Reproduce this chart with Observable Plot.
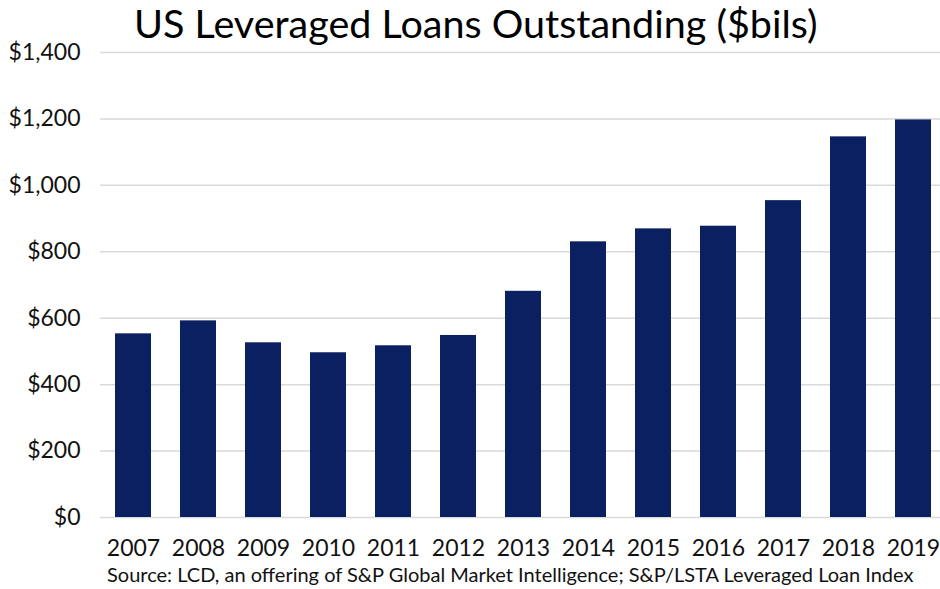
<!DOCTYPE html>
<html>
<head>
<meta charset="utf-8">
<script src="https://cdn.jsdelivr.net/npm/d3@7"></script>
<script src="https://cdn.jsdelivr.net/npm/@observablehq/plot@0.6"></script>
<style>
  body { margin: 0; background: #fff; }
  #wrap { position: relative; width: 940px; height: 589px; overflow: hidden; font-family: Lato, "Open Sans", sans-serif; }
  #title { position: absolute; left: 134px; top: -2px; font-size: 39.5px; color: #000; white-space: nowrap; line-height: 50px; }
  #caption { position: absolute; left: 107px; top: 562px; font-size: 20px; color: #111; white-space: nowrap; line-height: 24px; }
  #chart { position: absolute; left: 0; top: 0; }
</style>
</head>
<body>
<div id="wrap">
  <div id="chart"></div>
  <div id="title">US Leveraged Loans Outstanding ($bils)</div>
  <div id="caption">Source: LCD, an offering of S&amp;P Global Market Intelligence; S&amp;P/LSTA Leveraged Loan Index</div>
</div>
<script>
const years = ["2007","2008","2009","2010","2011","2012","2013","2014","2015","2016","2017","2018","2019"];
const loans = [553, 592, 526, 496, 517, 548, 681, 830, 869, 877, 954, 1146, 1197];
const yTicks = [0, 200, 400, 600, 800, 1000, 1200, 1400];

const data = years.map((y, i) => ({year: y, value: loans[i]}));

const chart = Plot.plot({
  width: 940,
  height: 589,
  marginTop: 52,
  marginBottom: 72,
  marginLeft: 100,
  marginRight: 0,
  style: {fontFamily: "Lato, 'Open Sans', sans-serif", fontSize: "23px", color: "#111", background: "transparent"},
  x: {domain: years, range: [100, 945], paddingInner: 0.45, paddingOuter: 0.225, label: null},
  y: {domain: [0, 1400], label: null},
  marks: [
    Plot.gridY(yTicks, {stroke: "#d9d9d9", strokeOpacity: 1, strokeWidth: 1.5}),
    Plot.barY(data, {x: "year", y: "value", fill: "#0b2060"}),
    Plot.axisY(yTicks, {tickSize: 0, tickPadding: 20, tickFormat: d => "$" + d3.format(",")(d), fontSize: 23}),
    Plot.axisX({tickSize: 0, tickPadding: 22, fontSize: 23})
  ]
});
document.getElementById("chart").appendChild(chart);
</script>
</body>
</html>
